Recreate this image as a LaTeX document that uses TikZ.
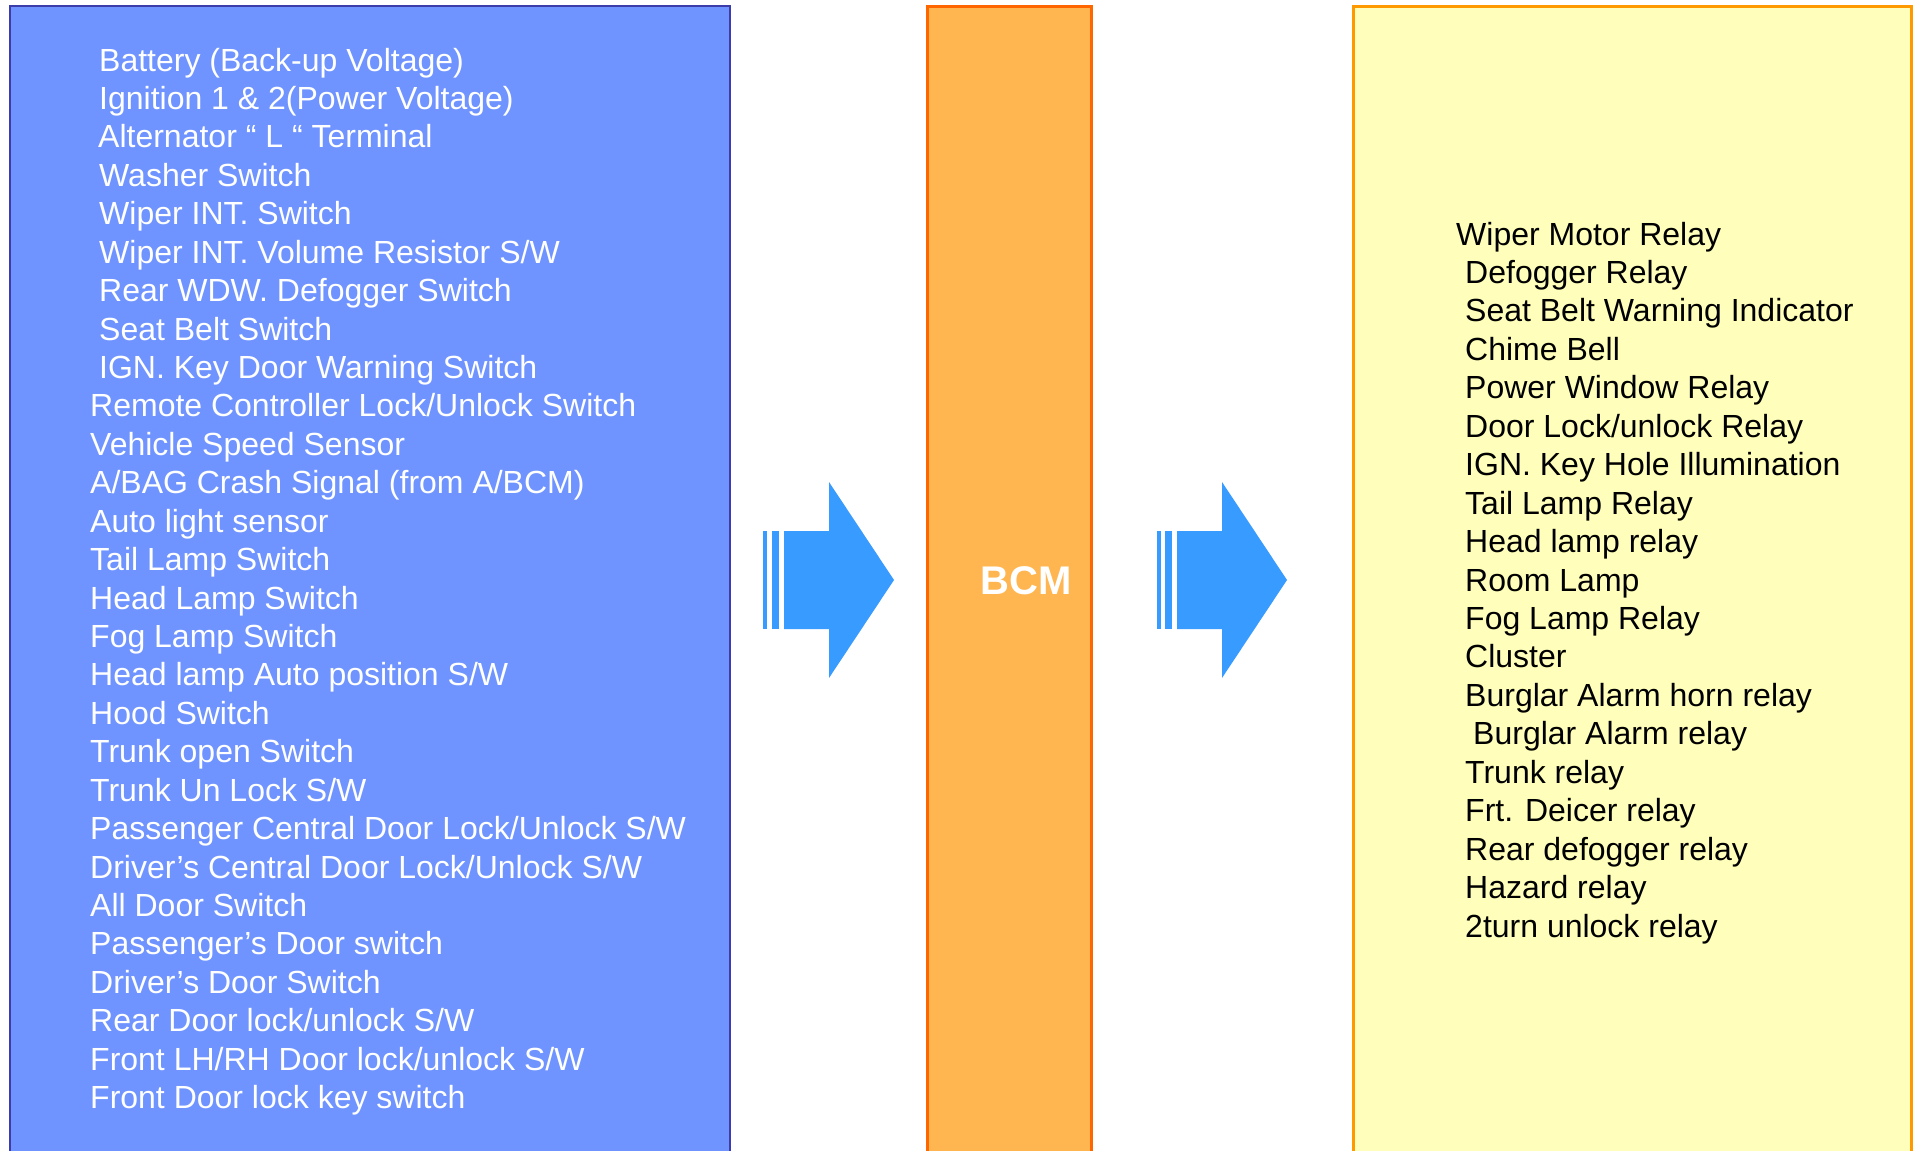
\documentclass[tikz,border=0pt]{standalone}
\usepackage{fontspec}
\setmainfont{Liberation Sans}
\begin{document}
\begin{tikzpicture}[x=1pt,y=-1pt,
  inbox/.style={draw=inborder,line width=2pt,fill=inblue},
  bcmbox/.style={draw=bcmborder,line width=3pt,fill=bcmfill},
  outbox/.style={draw=outborder,line width=3pt,fill=outfill},
  bigarrow/.style={fill=arrowblue},
  intext/.style={anchor=base west,inner sep=0pt,text=white,font=\fontsize{32}{38}\selectfont},
  outtext/.style={anchor=base west,inner sep=0pt,text=black,font=\fontsize{32}{38}\selectfont},
  bcmtext/.style={anchor=base,inner sep=0pt,text=white,font=\fontsize{40}{48}\selectfont\bfseries}]
\definecolor{inblue}{RGB}{112,148,255}
\definecolor{inborder}{RGB}{60,60,170}
\definecolor{bcmfill}{RGB}{255,181,80}
\definecolor{bcmborder}{RGB}{255,102,0}
\definecolor{outfill}{RGB}{255,255,187}
\definecolor{outborder}{RGB}{255,153,0}
\definecolor{arrowblue}{RGB}{56,155,255}
\useasboundingbox (0,0) rectangle (1915,1151);
\clip (0,0) rectangle (1915,1151);
\fill[white] (0,0) rectangle (1915,1151);
% boxes
\draw[inbox] (10,6) rectangle (730,1175);
\draw[bcmbox] (927,6) rectangle (1091,1175);
\draw[outbox] (1353,6) rectangle (1911,1175);
% arrows
\fill[bigarrow] (763,531) rectangle (767,629);
\fill[bigarrow] (772,531) rectangle (779,629);
\fill[bigarrow] (784,531) -- (829,531) -- (829,482) -- (894,580) -- (829,678) -- (829,629) -- (784,629) -- cycle;
\fill[bigarrow] (1157,531) -- (1161,531) -- (1161,629) -- (1157,629) -- cycle;
\fill[bigarrow] (1165,531) rectangle (1172,629);
\fill[bigarrow] (1177,531) -- (1222,531) -- (1222,482) -- (1287,580) -- (1222,678) -- (1222,629) -- (1177,629) -- cycle;
% BCM
\node[bcmtext] (bcm) at (1026,594) {BCM};
% inputs
\foreach \t [count=\i from 0] in {
  {Battery (Back-up Voltage)},
  {Ignition 1 \& 2(Power Voltage)},
  {Alternator “ L “ Terminal},
  {Washer Switch},
  {Wiper INT. Switch},
  {Wiper INT. Volume Resistor S/W},
  {Rear WDW. Defogger Switch},
  {Seat Belt Switch},
  {IGN. Key Door Warning Switch}}
  { \ifnum\i=2 \def\xx{98}\else\def\xx{99}\fi
    \node[intext] (in\i) at (\xx,71+38.43*\i) {\t}; }
\foreach \t [count=\i from 9] in {
  {Remote Controller Lock/Unlock Switch},
  {Vehicle Speed Sensor},
  {A/BAG Crash Signal (from A/BCM)},
  {Auto light sensor},
  {Tail Lamp Switch},
  {Head Lamp Switch},
  {Fog Lamp Switch},
  {Head lamp Auto position S/W},
  {Hood Switch},
  {Trunk open Switch},
  {Trunk Un Lock S/W},
  {Passenger Central Door Lock/Unlock S/W},
  {Driver’s Central Door Lock/Unlock S/W},
  {All Door Switch},
  {Passenger’s Door switch},
  {Driver’s Door Switch},
  {Rear Door lock/unlock S/W},
  {Front LH/RH Door lock/unlock S/W},
  {Front Door lock key switch}}
  { \node[intext] (in\i) at (90,71+38.43*\i) {\t}; }
% outputs
\foreach \t [count=\j from 0] in {
  {Wiper Motor Relay},
  {Defogger Relay},
  {Seat Belt Warning Indicator},
  {Chime Bell},
  {Power Window Relay},
  {Door Lock/unlock Relay},
  {IGN. Key Hole Illumination},
  {Tail Lamp Relay},
  {Head lamp relay},
  {Room Lamp},
  {Fog Lamp Relay},
  {Cluster},
  {Burglar Alarm horn relay},
  {Burglar Alarm relay},
  {Trunk relay},
  {Frt. Deicer relay},
  {Rear defogger relay},
  {Hazard relay},
  {2turn unlock relay}}
  { \ifnum\j=0 \def\xx{1456}\else\ifnum\j=13 \def\xx{1473}\else\def\xx{1465}\fi\fi
    \node[outtext] (out\j) at (\xx,245+38.45*\j) {\t}; }
\end{tikzpicture}
\end{document}
